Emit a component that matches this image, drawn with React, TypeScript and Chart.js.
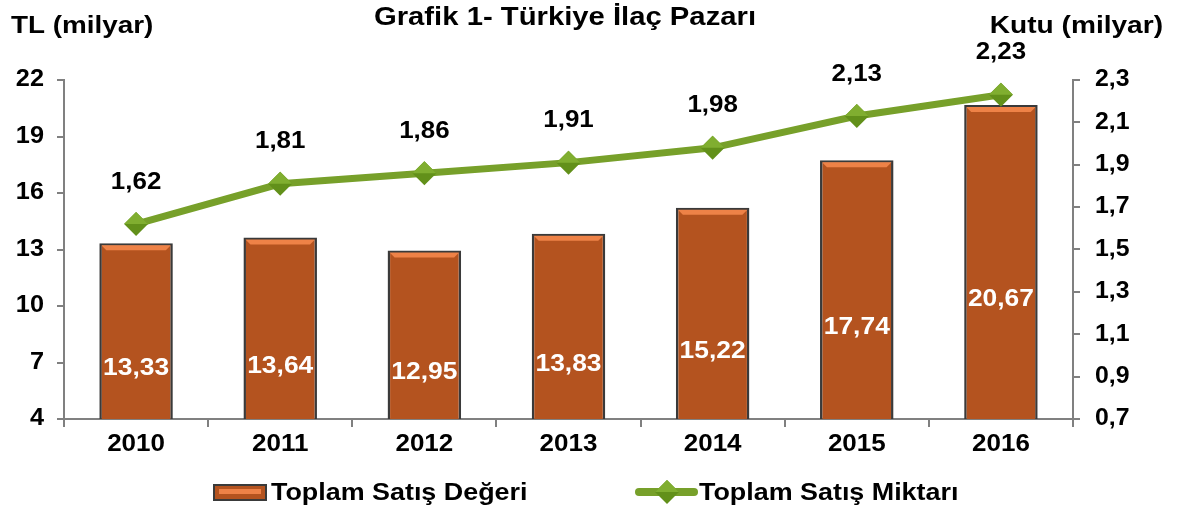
import React, { useEffect, useRef } from "react";
import { Chart, registerables } from "chart.js";

Chart.register(...registerables);

const years = ["2010", "2011", "2012", "2013", "2014", "2015", "2016"];
const salesValue = [13.33, 13.64, 12.95, 13.83, 15.22, 17.74, 20.67];
const salesQty = [1.62, 1.81, 1.86, 1.91, 1.98, 2.13, 2.23];
const titleText = "Grafik 1- Türkiye İlaç Pazarı";
const leftAxisTitle = "TL (milyar)";
const rightAxisTitle = "Kutu (milyar)";
const barLabel = "Toplam Satış Değeri";
const lineLabel = "Toplam Satış Miktarı";

const FONT = "'Liberation Sans', Arial, sans-serif";
const BAR = "#B4531F";
const BAR_LIGHT = "#EE8247";
const BAR_BORDER = "#3a3a3a";
const LINE = "#77A02A";
const POINT = "#62901A";

const fmt = (v: number, d: number) => v.toFixed(d).replace(".", ",");

function stretchText(
  ctx: CanvasRenderingContext2D,
  text: string,
  x: number,
  y: number,
  size: number,
  sx: number,
  align: CanvasTextAlign,
  color: string
) {
  ctx.save();
  ctx.font = `bold ${size}px ${FONT}`;
  ctx.fillStyle = color;
  ctx.textAlign = align;
  ctx.textBaseline = "middle";
  ctx.translate(x, y);
  ctx.scale(sx, 1);
  ctx.fillText(text, 0, 0);
  ctx.restore();
}

function drawDiamond(ctx: CanvasRenderingContext2D, x: number, y: number, r: number) {
  ctx.save();
  ctx.beginPath();
  ctx.moveTo(x, y - r);
  ctx.lineTo(x + r, y);
  ctx.lineTo(x, y + r);
  ctx.lineTo(x - r, y);
  ctx.closePath();
  ctx.fillStyle = POINT;
  ctx.fill();
  ctx.beginPath();
  ctx.moveTo(x, y - r);
  ctx.lineTo(x + r, y);
  ctx.lineTo(x - r, y);
  ctx.closePath();
  ctx.fillStyle = "#80AE30";
  ctx.fill();
  ctx.restore();
}

const overlayPlugin = {
  id: "overlay",
  afterDatasetsDraw(chart: any) {
    const ctx: CanvasRenderingContext2D = chart.ctx;
    const barMeta = chart.getDatasetMeta(0);
    barMeta.data.forEach((bar: any) => {
      const w = bar.width;
      const left = bar.x - w / 2 + 2;
      const right = bar.x + w / 2 - 2;
      const top = bar.y + 2;
      ctx.save();
      ctx.beginPath();
      ctx.moveTo(left, top);
      ctx.lineTo(right, top);
      ctx.lineTo(right - 5, top + 5);
      ctx.lineTo(left + 5, top + 5);
      ctx.closePath();
      ctx.fillStyle = BAR_LIGHT;
      ctx.fill();
      ctx.restore();
    });
    const lineMeta = chart.getDatasetMeta(1);
    lineMeta.data.forEach((pt: any) => drawDiamond(ctx, pt.x, pt.y, 12));

    barMeta.data.forEach((bar: any, i: number) => {
      const yMid = (bar.y + bar.base) / 2;
      stretchText(ctx, fmt(salesValue[i], 2), bar.x, yMid, 24, 1.1, "center", "#ffffff");
    });
    lineMeta.data.forEach((pt: any, i: number) => {
      stretchText(ctx, fmt(salesQty[i], 2), pt.x, pt.y - 42, 24, 1.08, "center", "#000000");
    });
  },
  afterDraw(chart: any) {
    const ctx: CanvasRenderingContext2D = chart.ctx;
    const xs = chart.scales.x;
    xs.ticks.forEach((t: any, i: number) => {
      stretchText(ctx, String(t.label), xs.getPixelForTick(i), 445, 23, 1.13, "center", "#000");
    });
    const ys = chart.scales.y;
    ys.ticks.forEach((t: any, i: number) => {
      stretchText(ctx, String(t.label), 44, ys.getPixelForTick(i), 23, 1.1, "right", "#000");
    });
    const y1 = chart.scales.y1;
    y1.ticks.forEach((t: any, i: number) => {
      stretchText(ctx, String(t.label), 1095, y1.getPixelForTick(i), 23, 1.08, "left", "#000");
    });

    stretchText(ctx, titleText, 565, 18, 25, 1.17, "center", "#000");
    stretchText(ctx, leftAxisTitle, 11, 26, 24, 1.16, "left", "#000");
    stretchText(ctx, rightAxisTitle, 1163, 26, 24, 1.17, "right", "#000");

    ctx.save();
    ctx.fillStyle = BAR_BORDER;
    ctx.fillRect(213, 484, 54, 17);
    ctx.fillStyle = BAR;
    ctx.fillRect(215, 486, 50, 13);
    ctx.fillStyle = BAR_LIGHT;
    ctx.fillRect(219, 489, 42, 5);
    ctx.strokeStyle = LINE;
    ctx.lineWidth = 8;
    ctx.lineCap = "round";
    ctx.beginPath();
    ctx.moveTo(639, 492);
    ctx.lineTo(694, 492);
    ctx.stroke();
    ctx.restore();
    drawDiamond(ctx, 667, 492, 12);
    stretchText(ctx, barLabel, 271, 493, 24, 1.12, "left", "#000");
    stretchText(ctx, lineLabel, 699, 493, 24, 1.12, "left", "#000");
  },
};

export default function App() {
  const canvasRef = useRef<HTMLCanvasElement | null>(null);

  useEffect(() => {
    document.body.style.margin = "0";
    const canvas = canvasRef.current;
    if (!canvas) return;
    const tickFont = { family: FONT, size: 22, weight: "bold" as const };
    const hidden = "rgba(0,0,0,0)";
    const chart = new Chart(canvas, {
      type: "bar",
      data: {
        labels: years,
        datasets: [
          {
            type: "bar",
            label: barLabel,
            data: salesValue,
            backgroundColor: BAR,
            borderColor: BAR_BORDER,
            borderWidth: 2.5,
            categoryPercentage: 1,
            barPercentage: 0.51,
            yAxisID: "y",
            order: 2,
          },
          {
            type: "line",
            label: lineLabel,
            data: salesQty,
            borderColor: LINE,
            borderWidth: 7,
            pointRadius: 0,
            pointHoverRadius: 0,
            yAxisID: "y1",
            order: 1,
          },
        ] as any,
      },
      options: {
        responsive: false,
        animation: false,
        events: [],
        layout: { padding: { top: 80, left: 0, right: 0, bottom: 0 } },
        plugins: {
          legend: { display: false },
          title: { display: false },
          tooltip: { enabled: false },
        },
        scales: {
          x: {
            offset: true,
            grid: {
              drawOnChartArea: false,
              color: "#808080",
              lineWidth: 2,
              tickLength: 8,
              offset: true,
            },
            border: { color: "#808080", width: 2 },
            ticks: { color: hidden, font: tickFont, padding: 6 },
            afterFit(scale: any) {
              scale.height = 94;
            },
          },
          y: {
            position: "left",
            min: 4,
            max: 22,
            ticks: { stepSize: 3, color: hidden, font: tickFont, padding: 12 },
            grid: { drawOnChartArea: false, color: "#808080", lineWidth: 2, tickLength: 7 },
            border: { color: "#808080", width: 2 },
            afterFit(scale: any) {
              scale.width = 64;
            },
          },
          y1: {
            position: "right",
            min: 0.7,
            max: 2.3,
            ticks: {
              stepSize: 0.2,
              color: hidden,
              font: tickFont,
              padding: 12,
              callback: (v: any) => fmt(Number(v), 1),
            },
            grid: { drawOnChartArea: false, color: "#808080", lineWidth: 2, tickLength: 7 },
            border: { color: "#808080", width: 2 },
            afterFit(scale: any) {
              scale.width = 107;
            },
          },
        },
      },
      plugins: [overlayPlugin],
    });
    return () => chart.destroy();
  }, []);

  return (
    <div style={{ width: 1180, height: 513, background: "#fff" }}>
      <canvas ref={canvasRef} width={1180} height={513} style={{ display: "block" }} />
    </div>
  );
}
